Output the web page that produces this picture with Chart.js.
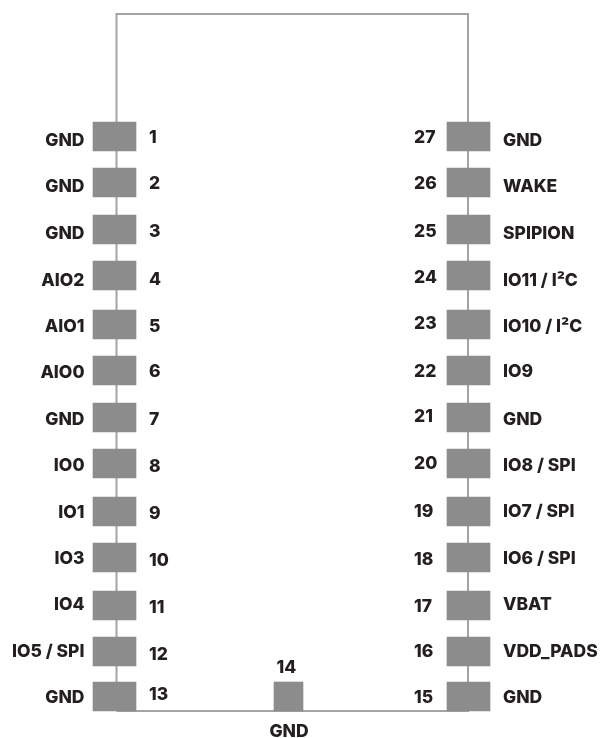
<html>

<head>
    <script src="https://cdn.jsdelivr.net/npm/chart.js@4"></script>
    <style>
        body {
            margin: 0;
            background-color: #ffffff;
        }

        canvas {
            display: block;
        }
    </style>
</head>

<body>
    <canvas id="pinout" width="603" height="738"></canvas>
</body>
<script>
    // pins down the left side, top to bottom
    var leftNumbers = ['1', '2', '3', '4', '5', '6', '7', '8', '9', '10', '11', '12', '13'];
    var leftNames = ['GND', 'GND', 'GND', 'AIO2', 'AIO1', 'AIO0', 'GND', 'IO0', 'IO1', 'IO3', 'IO4', 'IO5 / SPI', 'GND'];

    // pins down the right side, top to bottom
    var rightNumbers = ['27', '26', '25', '24', '23', '22', '21', '20', '19', '18', '17', '16', '15'];
    var rightNames = ['GND', 'WAKE', 'SPIPION', 'IO11 / I²C', 'IO10 / I²C', 'IO9', 'GND', 'IO8 / SPI', 'IO7 / SPI', 'IO6 / SPI', 'VBAT', 'VDD_PADS', 'GND'];

    // bottom pin
    var bottomNumber = '14';
    var bottomName = 'GND';

    // values
    var padRows = [136.5, 182.5, 229.5, 275.5, 324.5, 370.5, 417.5, 463.5, 511.5, 557.5, 605.5, 651.5, 696.5];
    var leftPadRange = [93, 136];
    var rightPadRange = [447, 490];
    var bottomPadRange = [274, 303];

    var outlineX = [116.5, 116.5, 468, 468, 116.5];
    var outlineY = [711, 14, 14, 711, 711];

    var leftNameRows = [140, 186, 233, 280, 326, 372, 419, 465, 512, 558, 604, 651, 697];
    var leftNumberRows = [137, 183, 231, 279, 326, 371, 419, 466, 513, 560, 607, 654, 694];
    var rightNumberRows = [137, 183, 231, 277, 323, 371, 416, 463, 511, 559, 606, 651, 697];
    var rightNameRows = [140, 186, 233, 280, 326, 371, 419, 465, 511, 558, 604, 651, 697];

    function padsFrom(range) {
        return padRows.map(function (row) {
            return { x: range, y: row };
        });
    }

    function outlinePoints() {
        return outlineX.map(function (x, i) {
            return { x: x, y: outlineY[i] };
        });
    }

    // Chart.js has no text marks, so the pin labels go on through the scales here
    var pinLabels = {
        id: 'pinLabels',
        afterDatasetsDraw: function (chart) {
            var ctx = chart.ctx;
            var xs = chart.scales.x;
            var ys = chart.scales.y;

            function put(text, x, y, align) {
                ctx.textAlign = align;
                // +1 because 'middle' sits a little above the centre of the capitals
                ctx.fillText(text, xs.getPixelForValue(x), ys.getPixelForValue(y) + 1);
            }

            ctx.save();
            ctx.font = '800 17.5px Inter';
            ctx.fillStyle = '#231f20';
            ctx.textBaseline = 'middle';

            for (var i = 0; i < padRows.length; i++) {
                put(leftNames[i], 84.5, leftNameRows[i], 'right');
                put(leftNumbers[i], 149, leftNumberRows[i], 'left');
                put(rightNumbers[i], 414, rightNumberRows[i], 'left');
                put(rightNames[i], 503, rightNameRows[i], 'left');
            }
            put(bottomNumber, 286.5, 667, 'center');
            put(bottomName, 289, 731, 'center');
            ctx.restore();
        }
    };

    var chart = new Chart(document.getElementById('pinout').getContext('2d'), {
        type: 'bar',
        data: {
            datasets: [
                {
                    label: 'Left pads',
                    data: padsFrom(leftPadRange),
                    backgroundColor: '#8c8c8c',
                    barThickness: 29,
                    grouped: false,
                    order: 1
                },
                {
                    label: 'Right pads',
                    data: padsFrom(rightPadRange),
                    backgroundColor: '#8c8c8c',
                    barThickness: 29,
                    grouped: false,
                    order: 1
                },
                {
                    label: 'Bottom pad',
                    data: [{ x: bottomPadRange, y: padRows[padRows.length - 1] }],
                    backgroundColor: '#8c8c8c',
                    barThickness: 29,
                    grouped: false,
                    order: 1
                },
                {
                    type: 'scatter',
                    indexAxis: 'x',
                    label: 'Outline',
                    data: outlinePoints(),
                    showLine: true,
                    borderColor: '#a3a3a3',
                    borderWidth: 2,
                    pointRadius: 0,
                    order: 2
                }
            ]
        },
        options: {
            indexAxis: 'y',
            responsive: false,
            animation: false,
            layout: { padding: 0 },
            plugins: {
                legend: { display: false },
                tooltip: { enabled: false }
            },
            scales: {
                x: { type: 'linear', min: 0, max: 603, display: false, offset: false },
                y: { type: 'linear', min: 0, max: 738, reverse: true, display: false, offset: false }
            }
        },
        plugins: [pinLabels]
    });
</script>

</html>
